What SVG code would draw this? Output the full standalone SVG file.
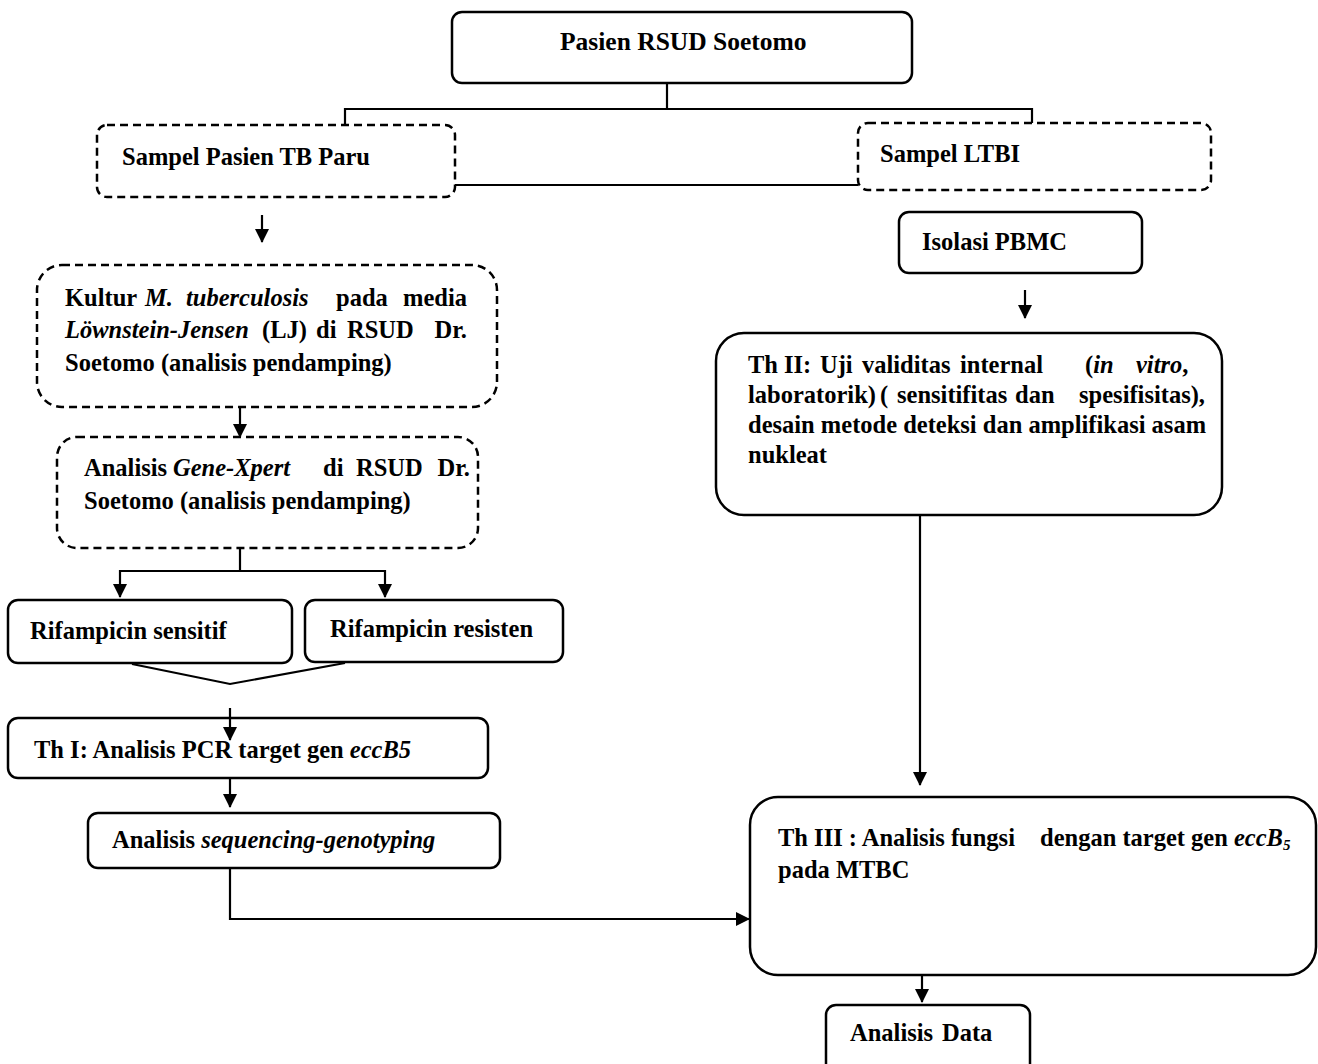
<svg xmlns="http://www.w3.org/2000/svg" width="1318" height="1064" viewBox="0 0 1318 1064">
<style>
.box{fill:#fff;stroke:#000;stroke-width:2.5}
.dash{fill:#fff;stroke:#000;stroke-width:2.5;stroke-dasharray:8 5}
.ln{fill:none;stroke:#000;stroke-width:2.2}
text{font-family:"Liberation Serif","Times New Roman",serif;font-size:24.5px;font-weight:bold;fill:#000}
.i{font-style:italic}
.e{text-anchor:end}
</style>
<defs>
<marker id="ah" markerUnits="userSpaceOnUse" markerWidth="14" markerHeight="16" refX="13" refY="7" orient="auto">
<path d="M0,0 L14,7 L0,14 Z" fill="#000"/>
</marker>
</defs>
<rect width="1318" height="1064" fill="#fff"/>
<g id="n-pasien">
<rect class="box" x="452" y="12" width="460" height="71" rx="10"/>
<text x="560" y="50" style="font-size:25.5px">Pasien RSUD Soetomo</text>
</g>
<g id="n-tbparu">
<rect class="dash" x="97" y="125" width="358" height="72" rx="10"/>
<text x="122" y="165">Sampel Pasien TB Paru</text>
</g>
<g id="n-ltbi">
<rect class="dash" x="858" y="123" width="353" height="67" rx="10"/>
<text x="880" y="162">Sampel LTBI</text>
</g>
<g id="n-pbmc">
<rect class="box" x="899" y="212" width="243" height="61" rx="10"/>
<text x="922" y="250">Isolasi PBMC</text>
</g>
<g id="n-kultur">
<rect class="dash" x="37" y="265" width="460" height="142" rx="25"/>
<text y="306"><tspan x="65">Kultur</tspan><tspan x="145" class="i">M.</tspan><tspan x="186" class="i">tuberculosis</tspan><tspan x="336">pada</tspan><tspan x="467" class="e">media</tspan></text>
<text y="338"><tspan x="65" class="i">Löwnstein-Jensen</tspan><tspan x="262">(LJ)</tspan><tspan x="316">di</tspan><tspan x="347">RSUD</tspan><tspan x="467" class="e">Dr.</tspan></text>
<text x="65" y="371">Soetomo (analisis pendamping)</text>
</g>
<g id="n-genexpert">
<rect class="dash" x="57" y="437" width="421" height="111" rx="20"/>
<text y="476"><tspan x="84">Analisis</tspan><tspan x="173" class="i">Gene-Xpert</tspan><tspan x="323">di</tspan><tspan x="356">RSUD</tspan><tspan x="470" class="e">Dr.</tspan></text>
<text x="84" y="509">Soetomo (analisis pendamping)</text>
</g>
<g id="n-sensitif">
<rect class="box" x="8" y="600" width="284" height="63" rx="10"/>
<text x="30" y="639">Rifampicin sensitif</text>
</g>
<g id="n-resisten">
<rect class="box" x="305" y="600" width="258" height="62" rx="10"/>
<text x="330" y="637">Rifampicin resisten</text>
</g>
<g id="n-th1">
<rect class="box" x="8" y="718" width="480" height="60" rx="10"/>
<text x="34" y="758">Th I: Analisis PCR target gen <tspan class="i">eccB5</tspan></text>
</g>
<g id="n-seq">
<rect class="box" x="88" y="813" width="412" height="55" rx="10"/>
<text x="112" y="848">Analisis <tspan class="i">sequencing-genotyping</tspan></text>
</g>
<g id="n-th2">
<rect class="box" x="716" y="333" width="506" height="182" rx="28"/>
<text y="373"><tspan x="748">Th</tspan><tspan x="784">II:</tspan><tspan x="820">Uji</tspan><tspan x="862">validitas</tspan><tspan x="960">internal</tspan><tspan x="1085">(<tspan class="i">in</tspan></tspan><tspan x="1136"><tspan class="i">vitro</tspan>,</tspan></text>
<text y="403"><tspan x="748">laboratorik)</tspan><tspan x="880">(</tspan><tspan x="897">sensitifitas</tspan><tspan x="1015">dan</tspan><tspan x="1205" class="e">spesifisitas),</tspan></text>
<text x="748" y="433">desain metode deteksi dan amplifikasi asam</text>
<text x="748" y="463">nukleat</text>
</g>
<g id="n-th3">
<rect class="box" x="750" y="797" width="566" height="178" rx="28"/>
<text y="846"><tspan x="778">Th III : Analisis fungsi</tspan><tspan x="1040">dengan target gen <tspan class="i">eccB</tspan><tspan class="i" font-size="15" dy="4">5</tspan></tspan></text>
<text x="778" y="878">pada MTBC</text>
</g>
<g id="n-data">
<rect class="box" x="826" y="1005" width="204" height="80" rx="10"/>
<text y="1041"><tspan x="850">Analisis</tspan><tspan x="942">Data</tspan></text>
</g>
<g id="connectors">
<path class="ln" d="M667,83 V108"/>
<path class="ln" d="M345,125 V109 H1032 V123"/>
<path class="ln" d="M455,185 H858"/>
<path class="ln" d="M262,215 V242" marker-end="url(#ah)"/>
<path class="ln" d="M240,408 V437" marker-end="url(#ah)"/>
<path class="ln" d="M240,549 V571"/>
<path class="ln" d="M120,571 H385"/>
<path class="ln" d="M120,570 V597" marker-end="url(#ah)"/>
<path class="ln" d="M385,570 V597" marker-end="url(#ah)"/>
<path class="ln" d="M132,664 L230,684 L345,663"/>
<path class="ln" d="M230,708 V740" marker-end="url(#ah)"/>
<path class="ln" d="M230,779 V807" marker-end="url(#ah)"/>
<path class="ln" d="M230,869 V919 H749" marker-end="url(#ah)"/>
<path class="ln" d="M1025,290 V318" marker-end="url(#ah)"/>
<path class="ln" d="M920,516 V785" marker-end="url(#ah)"/>
<path class="ln" d="M922,976 V1002" marker-end="url(#ah)"/>
</g>
</svg>
